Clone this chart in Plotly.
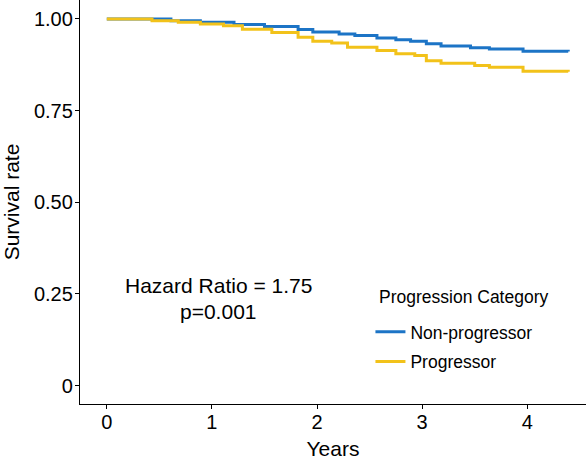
import plotly.graph_objects as go

# Kaplan-Meier step data (years, survival)
non_prog_t = [0, 0.61, 0.89, 1.21, 1.5, 1.82, 1.96, 2.21, 2.36, 2.57, 2.75, 2.89, 3.04, 3.18, 3.46, 3.64, 3.96, 4.39]
non_prog_s = [1.0, 0.995, 0.991, 0.985, 0.979, 0.971, 0.964, 0.959, 0.955, 0.948, 0.943, 0.939, 0.932, 0.926, 0.921, 0.918, 0.912, 0.911]

prog_t = [0, 0.43, 0.68, 0.89, 1.11, 1.29, 1.57, 1.82, 1.96, 2.14, 2.29, 2.57, 2.75, 2.93, 3.04, 3.18, 3.5, 3.64, 3.96, 4.39]
prog_s = [1.0, 0.995, 0.991, 0.986, 0.981, 0.972, 0.963, 0.95, 0.939, 0.934, 0.923, 0.914, 0.905, 0.9, 0.886, 0.879, 0.873, 0.868, 0.857, 0.856]

x_ticks = [0, 1, 2, 3, 4]
y_ticks = [0, 0.25, 0.5, 0.75, 1.0]
y_tick_labels = ["0", "0.25", "0.50", "0.75", "1.00"]

BLUE = "#1C74C6"
YELLOW = "#F2C21A"
FONT = "Liberation Sans, Arial, sans-serif"

fig = go.Figure()
fig.add_trace(go.Scatter(x=non_prog_t, y=non_prog_s, mode="lines", line_shape="hv",
                         line=dict(color=BLUE, width=3), name="Non-progressor",
                         legendgroup="a"))
fig.add_trace(go.Scatter(x=prog_t, y=prog_s, mode="lines", line_shape="hv",
                         line=dict(color=YELLOW, width=3), name="Progressor",
                         legendgroup="b"))

fig.add_annotation(x=1.065, y=0.273, xref="x", yref="y", text="Hazard Ratio = 1.75",
                   showarrow=False, font=dict(size=21, color="black", family=FONT))
fig.add_annotation(x=1.065, y=0.203, xref="x", yref="y", text="p=0.001",
                   showarrow=False, font=dict(size=21, color="black", family=FONT))
# legend title
fig.add_annotation(x=0.5866, y=0.2649, xref="paper", yref="paper", xanchor="left",
                   yanchor="middle", text="Progression Category", showarrow=False,
                   font=dict(size=17.5, color="black", family=FONT))

fig.update_layout(
    width=586, height=461,
    margin=dict(l=80, r=0, t=0, b=57),
    plot_bgcolor="white", paper_bgcolor="white",
    font=dict(family=FONT, color="black"),
    showlegend=True,
    legend=dict(x=0.574, y=0.2228, xanchor="left", yanchor="top",
                font=dict(size=17.5), tracegroupgap=4, bgcolor="rgba(0,0,0,0)"),
    xaxis=dict(range=[-0.255, 4.559], tickvals=x_ticks, ticks="outside", ticklen=4,
               tickcolor="black", showline=True, linecolor="black", linewidth=1.3,
               showgrid=False, zeroline=False, tickfont=dict(size=20), automargin=False,
               ticklabelstandoff=-4,
               title=dict(text="Years", font=dict(size=21), standoff=9)),
    yaxis=dict(range=[-0.0499, 1.0515], tickvals=y_ticks, ticktext=y_tick_labels,
               ticks="outside", ticklen=4, tickcolor="black", showline=True,
               linecolor="black", linewidth=1.3, showgrid=False, zeroline=False,
               tickfont=dict(size=20), automargin=False, ticklabelstandoff=-2,
               title=dict(text="Survival rate", font=dict(size=21), standoff=13)),
)

fig.write_html("out.html", config={"displayModeBar": False},
               post_script="document.body.style.margin='0';document.body.style.overflow='hidden';")
